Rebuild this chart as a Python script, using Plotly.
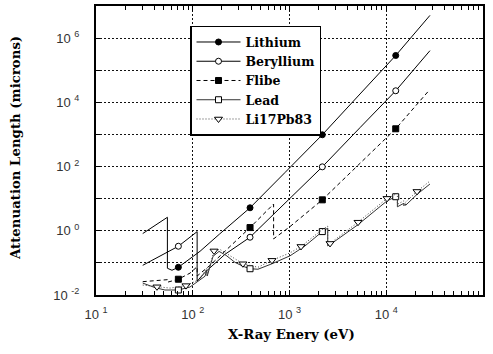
import plotly.graph_objects as go

# ---- attenuation length (microns) vs photon energy (eV) ----
lithium_e = [30.4, 54.7, 54.7, 61, 71, 93.5, 119, 190, 391, 898, 2183, 5358, 12530, 28300]
lithium_l = [0.82, 2.63, 0.068, 0.059, 0.073, 0.13, 0.23, 0.80, 5.2, 65, 977, 18200, 288000, 5.1e6]

beryllium_e = [30.4, 71, 111, 111, 134, 215, 391, 898, 2183, 5358, 12530, 28300]
beryllium_l = [0.084, 0.33, 0.94, 0.027, 0.051, 0.184, 0.63, 7.2, 98, 1630, 22900, 407000]

flibe_e = [30.4, 45.8, 54.7, 54.7, 71, 93.7, 111, 111, 151, 391, 685, 685, 1012, 2183, 5358, 12530, 27870]
flibe_l = [0.026, 0.028, 0.030, 0.025, 0.031, 0.048, 0.076, 0.039, 0.084, 1.26, 6.8, 0.56, 1.35, 9.2, 126, 1500, 24000]

lead_e = [30.4, 40.7, 51.6, 71, 93.5, 119, 134, 139, 141, 162, 187, 221, 273, 330, 391, 472, 659,
          1012, 1445, 2183, 2484, 2484, 2685, 5107, 10190, 12530, 13035, 13035, 15200, 15200,
          15861, 15861, 20800, 28300]
lead_l = [0.0235, 0.017, 0.0143, 0.0143, 0.0177, 0.029, 0.0385, 0.059, 0.039, 0.16, 0.228, 0.172,
          0.104, 0.0786, 0.0658, 0.0634, 0.0938, 0.166, 0.337, 0.944, 1.21, 0.337, 0.389, 1.55,
          8.55, 11.5, 12.2, 5.58, 7.17, 6.0, 6.92, 6.2, 13.6, 28.6]

lipb_e = [30.4, 42.7, 58.2, 85.1, 119, 139, 141, 165.9, 191, 231, 330, 472, 659, 1012, 1315,
          2183, 2484, 2484, 2624, 5107, 10190, 13035, 13035, 15200, 15200, 20800, 28300]
lipb_l = [0.0204, 0.018, 0.0164, 0.0196, 0.031, 0.068, 0.041, 0.236, 0.263, 0.184, 0.0938, 0.073,
          0.12, 0.205, 0.325, 1.09, 1.40, 0.375, 0.403, 1.85, 10.2, 14.6, 6.67, 8.55, 6.92, 16.8, 35.5]

# energies carrying a plot symbol
symbol_e = [71, 391, 2183, 12530]
lipb_symbol_e = [42.7, 85.1, 165.9, 330, 659, 1315, 2624, 5107, 10190, 20800]

x_tick_vals = [10, 100, 1000, 10000, 100000]
x_tick_text = ["10 <sup>1</sup>", "10 <sup>2</sup>", "10 <sup>3</sup>", "10 <sup>4</sup>", "10 <sup>5</sup>"]
y_tick_vals = [1e-2, 1e-1, 1, 10, 100, 1e3, 1e4, 1e5, 1e6, 1e7]
y_tick_text = ["10 <sup>-2</sup>", "", "10 <sup>0</sup>", "", "10 <sup>2</sup>", "",
               "10 <sup>4</sup>", "", "10 <sup>6</sup>", ""]

SERIF = "DejaVu Serif, serif"
SANS = "Liberation Sans, Arial, sans-serif"

series = [
    ("Lithium", lithium_e, lithium_l, symbol_e, "black", "solid", "circle", "black"),
    ("Beryllium", beryllium_e, beryllium_l, symbol_e, "black", "solid", "circle", "white"),
    ("Flibe", flibe_e, flibe_l, symbol_e, "black", "4px,3px", "square", "black"),
    ("Lead", lead_e, lead_l, symbol_e, "#333333", "solid", "square", "white"),
    ("Li17Pb83", lipb_e, lipb_l, lipb_symbol_e, "#444444", "1px,2px", "triangle-down", "white"),
]

fig = go.Figure()
for name, xs, ys, marks, col, dash, sym, fill in series:
    picked = [i for i, e in enumerate(xs) if e in marks]
    fig.add_trace(go.Scatter(
        x=xs, y=ys, name=name, mode="lines+markers",
        line=dict(color=col, width=1, dash=dash),
        marker=dict(symbol=sym, size=6 if sym != "triangle-down" else 7, color=fill,
                    line=dict(color="black", width=1)),
        selectedpoints=picked,
        selected=dict(marker=dict(opacity=1)),
        unselected=dict(marker=dict(opacity=0)),
    ))

W, H = 493, 354
L, R, T, B = 96, 10, 4, 59
pw, ph = W - L - R, H - T - B


def px(xp):
    return (xp - L) / pw


def py(yp):
    return (H - B - yp) / ph


minor_x = [m * 10 ** k for k in range(1, 5) for m in range(2, 10)]

fig.update_xaxes(
    type="log", range=[1, 5], tickvals=x_tick_vals, ticktext=x_tick_text,
    showline=True, linecolor="black", linewidth=2, mirror="allticks",
    ticks="inside", ticklen=5, tickcolor="black",
    showgrid=True, gridcolor="#111111", gridwidth=1, griddash="2px,2px",
    minor=dict(tickvals=minor_x, ticks="inside", ticklen=4, tickcolor="black", showgrid=False),
    tickfont=dict(family=SANS, size=13, color="#333333"), ticklabelstandoff=6,
    zeroline=False,
)
fig.update_yaxes(
    type="log", range=[-2, 7], tickvals=y_tick_vals, ticktext=y_tick_text,
    showline=True, linecolor="black", linewidth=2, mirror="allticks",
    ticks="inside", ticklen=4, tickcolor="black",
    showgrid=True, gridcolor="#111111", gridwidth=1, griddash="2px,2px",
    tickfont=dict(family=SANS, size=13, color="#333333"), ticklabelstandoff=12,
    zeroline=False,
)

fig.update_layout(
    width=W, height=H, margin=dict(l=L, r=R, t=T, b=B),
    paper_bgcolor="white", plot_bgcolor="white",
    showlegend=True,
    legend=dict(x=px(190), y=py(24), xanchor="left", yanchor="top",
                bgcolor="white", bordercolor="black", borderwidth=1.5,
                font=dict(family=SERIF, size=12.5, color="black", weight="bold"),
                itemwidth=44, tracegroupgap=0),
    shapes=[dict(type="rect", xref="paper", yref="paper",
                 x0=px(194), x1=px(311), y0=py(130), y1=py(28),
                 fillcolor="black", line=dict(width=0), layer="above")],
    annotations=[
        dict(text="<b>X-Ray Enery (eV)</b>", xref="paper", yref="paper",
             x=px(291), y=py(335), xanchor="center", yanchor="middle", showarrow=False,
             font=dict(family=SERIF, size=13.3, color="black")),
        dict(text="<b>Attenuation Length (microns)</b>", xref="paper", yref="paper",
             x=px(15), y=py(147), xanchor="center", yanchor="middle", showarrow=False,
             textangle=-90, font=dict(family=SERIF, size=13.3, color="black")),
    ],
)

fig.write_html("out.html")
